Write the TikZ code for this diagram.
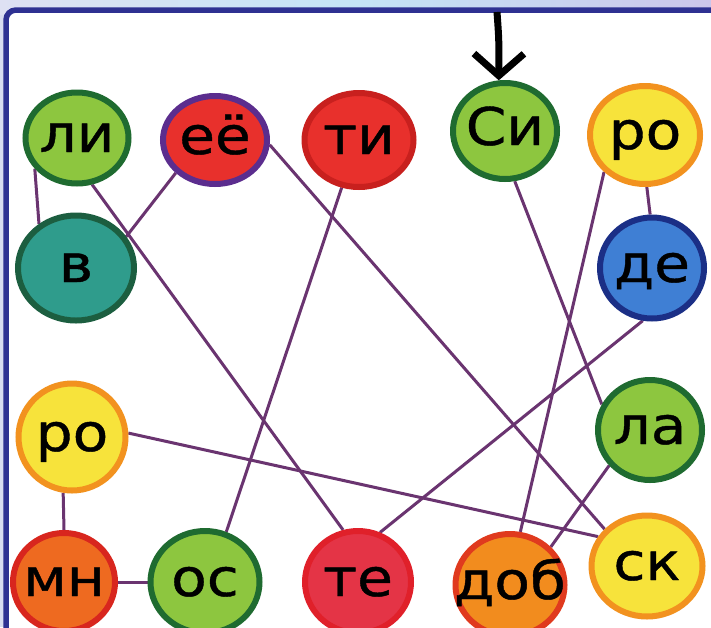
\documentclass[tikz,border=0pt]{standalone}
\usepackage{fontspec}
\setmainfont[FakeStretch=1.12,FakeBold=0.8]{DejaVu Sans}
\usetikzlibrary{shapes.geometric,arrows.meta}
\definecolor{frameblue}{HTML}{2E3192}
\definecolor{leaf}{HTML}{8DC63F}
\definecolor{leafdark}{HTML}{1F6B30}
\definecolor{tomato}{HTML}{E8302C}
\definecolor{tomatodark}{HTML}{C8201E}
\definecolor{plum}{HTML}{5B2D8E}
\definecolor{lemon}{HTML}{F7E33B}
\definecolor{amber}{HTML}{F2921F}
\definecolor{teal}{HTML}{2F9C8C}
\definecolor{tealdark}{HTML}{1C5E40}
\definecolor{sky}{HTML}{3F7FD4}
\definecolor{skydark}{HTML}{1B2F86}
\definecolor{carrot}{HTML}{EE6A20}
\definecolor{carrotdark}{HTML}{D8261E}
\definecolor{linkcol}{HTML}{6A3470}
\newcommand{\word}[1]{\makebox[0pt]{#1}}
\pgfdeclarelayer{back}
\pgfdeclarelayer{links}
\pgfsetlayers{back,links,main}
\tikzset{
  syl/.style={ellipse,line width=6pt,inner sep=0pt,text height=28pt,text depth=0pt,
    font=\fontsize{52}{52}\selectfont},
  dims/.style 2 args={minimum width=#1,minimum height=#2},
  greenball/.style={syl,fill=leaf,draw=leafdark},
  redball/.style={syl,fill=tomato,draw=tomatodark},
  yellowball/.style={syl,fill=lemon,draw=amber},
  orangeball/.style={syl,fill=carrot,draw=carrotdark},
  link/.style={draw=linkcol,line width=3pt}
}

\begin{document}
\begin{tikzpicture}[x=1pt,y=-1pt]
\useasboundingbox (0,0) rectangle (711,627);

% frame
\begin{pgfonlayer}{back}
\fill [color={rgb,255:red,216;green,220;blue,240}] (0,0) rectangle (711,627);
\shade [left color={rgb,255:red,222;green,225;blue,243},right color={rgb,255:red,196;green,228;blue,246}] (0,0) rectangle (355,14);
\shade [left color={rgb,255:red,196;green,228;blue,246},right color={rgb,255:red,204;green,198;blue,235}] (355,0) rectangle (711,14);
\draw [frameblue,fill=white,line width=5.5pt,rounded corners=10pt] (6,10) rectangle (740,660);
\end{pgfonlayer}

% syllables
\node [greenball,dims={103pt}{91pt}] (li) at (77,138) {\word{ли}};
\node [redball,draw=plum,dims={104pt}{88pt}] (ee) at (215,140) {\word{её}};
\node [redball,dims={109pt}{94pt}] (ti) at (359,140) {\word{ти}};
\node [greenball,dims={104pt}{96pt}] (si) at (505,131) {\word{Си}};
\node [yellowball,dims={110pt}{98pt}] (roa) at (645,135) {\word{ро}};
\node [syl,fill=teal,draw=tealdark,dims={116pt}{105pt}] (v) at (76,268) {\word{в}};
\node [syl,fill=sky,draw=skydark,dims={104pt}{101pt}] (de) at (652,268) {\word{де}};
\node [yellowball,dims={107pt}{107pt}] (rob) at (72,437) {\word{ро}};
\node [greenball,dims={104pt}{100pt}] (la) at (650,430) {\word{ла}};
\node [orangeball,dims={102pt}{98pt}] (mn) at (64,582) {\word{мн}};
\node [greenball,dims={109pt}{102pt}] (os) at (205,582) {\word{ос}};
\node [redball,fill={rgb,255:red,228;green,52;blue,70},draw={rgb,255:red,224;green,32;blue,42},dims={106pt}{102pt}] (te) at (358,582) {\word{те}};
\node [orangeball,fill={rgb,255:red,242;green,140;blue,30},draw={rgb,255:red,224;green,58;blue,30},dims={109pt}{102pt}] (dob) at (510,585) {\word{доб}};
\node [yellowball,dims={111pt}{101pt}] (sk) at (647,566) {\word{ск}};

% start
\coordinate (start) at (497,12);
\draw [line width=7pt,-{Straight Barb[length=22pt,width=50pt]}] (start) .. controls (499,40) .. (si.97);

% links
\begin{pgfonlayer}{links}
\path [link]
(li.216) edge (v.130)
(ee.220) edge (v.32)
(li.288) edge (te.106)
(ee.-5) edge (sk.139)
(ti.250) edge (os.67)
(si.281) edge (la.152)
(roa.222) edge (dob.79)
(roa.-88) edge (de.92)
(de.260) edge (te.66)
(rob.4) edge (sk.149)
(rob.261) edge (mn.90)
(mn.0) edge (os.180)
(la.221) edge (dob.43)
;
\end{pgfonlayer}
\end{tikzpicture}
\end{document}
